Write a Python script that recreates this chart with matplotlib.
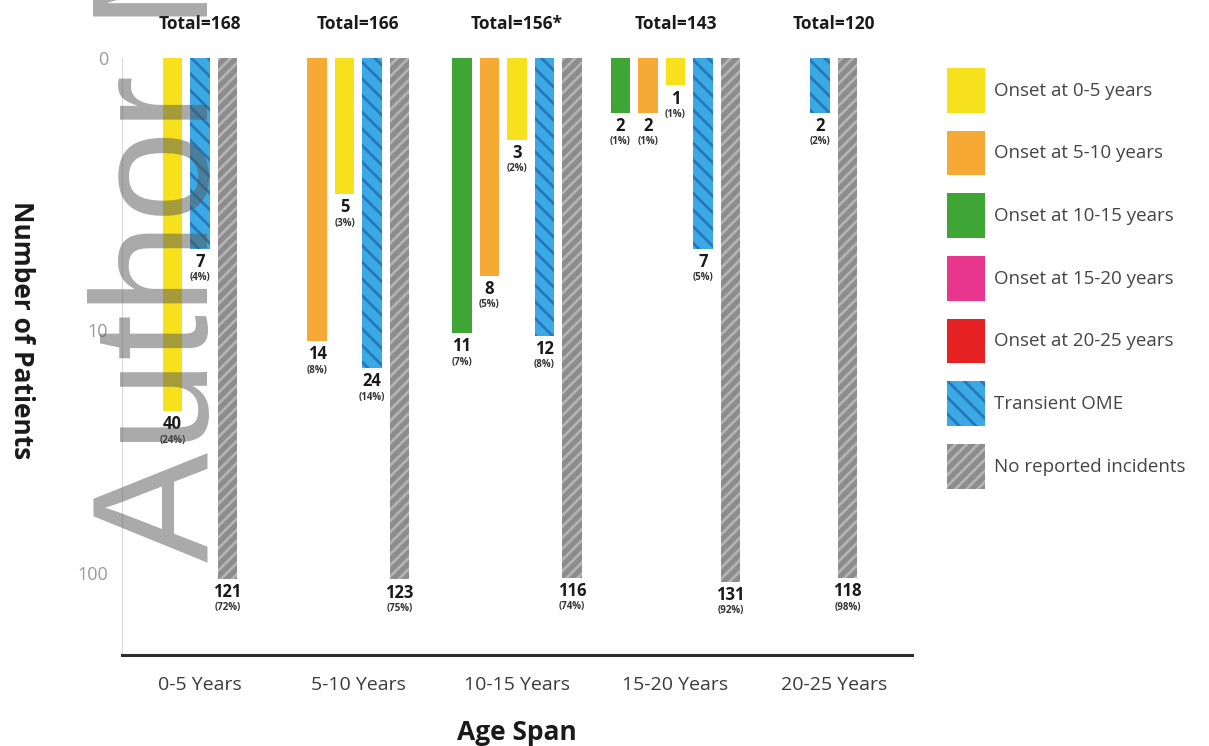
import numpy as np
import matplotlib.pyplot as plt
from matplotlib.patches import Patch

plt.rcParams['font.family'] = ['Open Sans', 'DejaVu Sans']
plt.rcParams['hatch.linewidth'] = 2.0

age_spans = ['0-5 Years', '5-10 Years', '10-15 Years', '15-20 Years', '20-25 Years']
totals = ['Total=168', 'Total=166', 'Total=156*', 'Total=143', 'Total=120']

onset_0_5 = [40, 5, 3, 1, 0]
onset_5_10 = [0, 14, 8, 2, 0]
onset_10_15 = [0, 0, 11, 2, 0]
onset_15_20 = [0, 0, 0, 0, 0]
onset_20_25 = [0, 0, 0, 0, 0]
transient = [7, 24, 12, 7, 2]
no_incident = [121, 123, 116, 131, 118]

pct_0_5 = [24, 3, 2, 1, 0]
pct_5_10 = [0, 8, 5, 1, 0]
pct_10_15 = [0, 0, 7, 1, 0]
pct_15_20 = [0, 0, 0, 0, 0]
pct_20_25 = [0, 0, 0, 0, 0]
pct_transient = [4, 14, 8, 5, 2]
pct_none = [72, 75, 74, 92, 98]

legend_labels = ['Onset at 0-5 years', 'Onset at 5-10 years', 'Onset at 10-15 years',
                 'Onset at 15-20 years', 'Onset at 20-25 years', 'Transient OME',
                 'No reported incidents']

# (values, percents, face, hatch colour, hatch) in legend order
series = [
    (onset_0_5, pct_0_5, '#f6e11c', None, ''),
    (onset_5_10, pct_5_10, '#f6a935', None, ''),
    (onset_10_15, pct_10_15, '#3fa535', None, ''),
    (onset_15_20, pct_15_20, '#e8358e', None, ''),
    (onset_20_25, pct_20_25, '#e62222', None, ''),
    (transient, pct_transient, '#3aa9e6', '#2778b8', '\\\\'),
    (no_incident, pct_none, '#8c8c8c', '#b3b3b3', '///'),
]
# bars inside a group: latest onset first, then transient, then none
draw_order = [4, 3, 2, 1, 0, 5, 6]

# piecewise linear axis: 0-10 gets its own stretch, then each decade is linear
L0 = 1.12


def fwd(v):
    v = np.asarray(v, dtype=float)
    vv = np.maximum(v, 10.0)
    k = np.floor(np.log10(vv))
    hi = L0 + (k - 1) + (vv - 10 ** k) / (9 * 10 ** k)
    return np.where(v <= 10, v / 10 * L0, hi)


def inv(u):
    u = np.asarray(u, dtype=float)
    uu = np.maximum(u - L0, 0.0)
    k = np.floor(uu) + 1
    hi = 10 ** k + (uu - (k - 1)) * 9 * 10 ** k
    return np.where(u <= L0, u / L0 * 10, hi)


fig = plt.figure(figsize=(12.09, 7.46), dpi=100)
ax = fig.add_axes([0.101, 0.122, 0.653, 0.800])
ax.set_yscale('function', functions=(fwd, inv))

step = 0.1735
width = 0.123
for g in range(len(age_spans)):
    present = [s for s in draw_order if series[s][0][g] > 0]
    n = len(present)
    for j, s in enumerate(present):
        vals, pcts, face, hcol, hatch = series[s]
        x = g + (j - (n - 1) / 2) * step
        ax.bar(x, vals[g], width=width, color=face,
               edgecolor=hcol if hcol else face, linewidth=0, hatch=hatch)
        ax.annotate(str(vals[g]), (x, vals[g]), xytext=(0, -3), textcoords='offset points',
                    ha='center', va='top', fontsize=12, fontweight='bold', color='#1a1a1a')
        ax.annotate('(%d%%)' % pcts[g], (x, vals[g]), xytext=(0, -17), textcoords='offset points',
                    ha='center', va='top', fontsize=7, fontweight='bold', color='#333333')
    ax.text(g, 1.057, totals[g], transform=ax.get_xaxis_transform(), ha='center',
            va='center', fontsize=12.5, fontweight='bold', color='#1a1a1a')

ax.set_ylim(403, 0)
ax.set_xlim(-0.49, 4.49)
ax.set_yticks([0, 10, 100])
ax.set_yticklabels(['0', '10', '100'])
ax.yaxis.set_minor_locator(plt.NullLocator())
ax.set_xticks(range(len(age_spans)))
ax.set_xticklabels(age_spans)
ax.tick_params(axis='y', length=0, pad=10, labelsize=13, labelcolor='#9a9a9a')
ax.tick_params(axis='x', length=0, pad=15, labelsize=14, labelcolor='#3a3a3a')

for side in ['top', 'right']:
    ax.spines[side].set_visible(False)
ax.spines['left'].set_color('#d8d8d8')
ax.spines['left'].set_linewidth(0.8)
ax.spines['bottom'].set_color('#2e2e2e')
ax.spines['bottom'].set_linewidth(2.2)

ax.set_xlabel('Age Span', fontsize=19, fontweight='bold', labelpad=18, color='#1a1a1a')
fig.text(0.018, 0.557, 'Number of Patients', rotation=-90, ha='center', va='center',
         fontsize=19, fontweight='bold', color='#1a1a1a')

handles = []
for vals, pcts, face, hcol, hatch in series:
    p = Patch(facecolor=face, edgecolor=hcol if hcol else face, linewidth=0, hatch=hatch)
    handles.append(p)
leg = fig.legend(handles, legend_labels, loc='upper left',
                 bbox_to_anchor=(947 / 1209, 1 - 68 / 746), frameon=False,
                 borderpad=0, borderaxespad=0, handlelength=2.0, handleheight=3.3,
                 labelspacing=0.95, handletextpad=0.5, fontsize=13.5)
for t in leg.get_texts():
    t.set_color('#444444')

# rotated watermark laid over the bars
fig.text(208 / 1209, 1 - 562 / 746, 'Author Manuscript', rotation=90,
         rotation_mode='anchor', ha='left', va='baseline', fontsize=119,
         family='Liberation Sans', color='#555555', alpha=0.5, zorder=10)

fig.savefig('out.png', dpi=100)
